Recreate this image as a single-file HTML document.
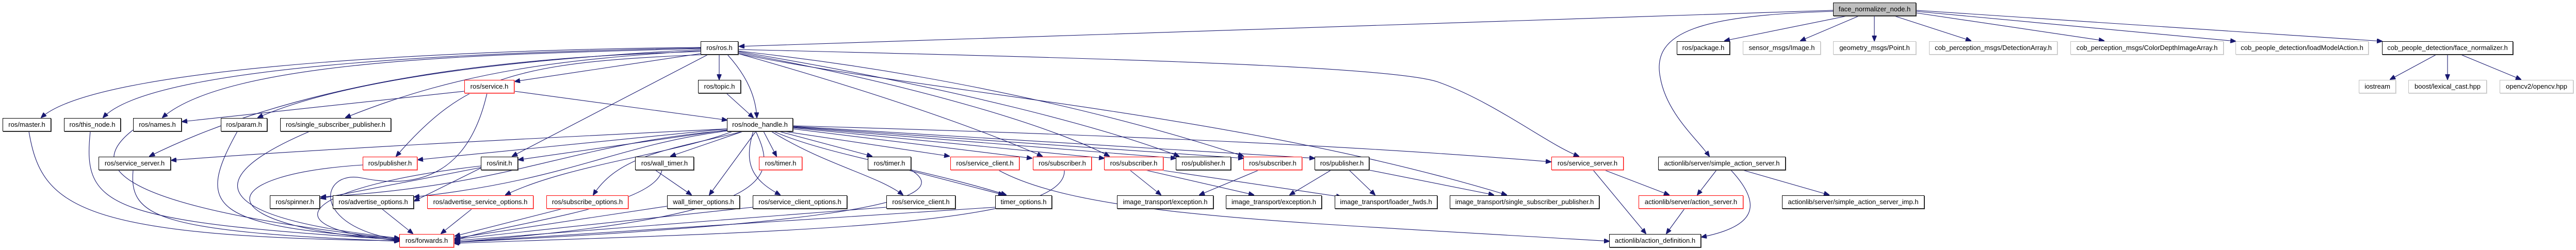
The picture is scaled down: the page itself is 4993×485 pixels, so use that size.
<!DOCTYPE html>
<html><head><meta charset="utf-8"><style>
html,body{margin:0;padding:0;background:#fff;}
#c{position:relative;width:4993px;height:485px;overflow:hidden;background:#fff;}
.n{position:absolute;height:26px;box-sizing:border-box;border:1px solid #000;background:#fff;font:13px "Liberation Sans",sans-serif;line-height:24px;text-align:center;white-space:nowrap;color:#000;box-shadow:1px 1px 0 #555;}
.r{border-color:#f00;box-shadow:1px 1px 0 #f99;}
.g{border-color:#bfbfbf;box-shadow:1px 1px 0 #ddd;}
.f{background:#bfbfbf;}
svg{position:absolute;left:0;top:0;}
path{fill:none;stroke:#191970;stroke-width:1.1;}
</style></head><body><div id="c">
<svg width="4993" height="485" viewBox="0 0 4993 485">
<defs><marker id="a" markerWidth="11" markerHeight="9" refX="10" refY="4.5" orient="auto" markerUnits="userSpaceOnUse"><path d="M0,0 L11,4.5 L0,9 z" style="fill:#191970;stroke:#191970"/></marker></defs>
<g marker-end="url(#a)">
<path d="M3553,20 L1433,90"/>
<path d="M3580,31 L3343,79"/>
<path d="M3603,31 L3490,79"/>
<path d="M3633,31 L3633,79"/>
<path d="M3672,31 L3820,79"/>
<path d="M3714,25 L4078,79"/>
<path d="M3714,22 L4333,80"/>
<path d="M3714,20 L4617,80"/>
<path d="M3553,22 C3300,30 3200,60 3218,150 C3230,220 3290,270 3313,303"/>
<path d="M4722,106 L4633,154"/>
<path d="M4744,106 L4744,154"/>
<path d="M4770,106 L4886,154"/>
<path d="M1358,92 C1000,95 200,120 80,228"/>
<path d="M1358,93 C1000,100 300,120 200,228"/>
<path d="M1358,94 C1000,105 450,110 315,228"/>
<path d="M1358,96 C1100,110 700,140 500,228"/>
<path d="M1358,98 C1100,115 900,135 670,228"/>
<path d="M1358,100 C1000,110 600,150 290,303"/>
<path d="M1365,106 C1000,120 900,150 768,303"/>
<path d="M1358,104 L998,158"/>
<path d="M1372,106 L993,303"/>
<path d="M1394,106 L1394,154"/>
<path d="M1410,106 C1450,150 1465,190 1467,228"/>
<path d="M1431,104 C1700,180 1900,250 2020,303"/>
<path d="M1431,102 C1800,170 2050,250 2150,303"/>
<path d="M1431,100 C1850,170 2150,250 2285,303"/>
<path d="M1431,99 C1900,150 2250,250 2410,303"/>
<path d="M1431,96 C2000,110 2700,125 2790,160 C2900,200 3000,280 3060,303"/>
<path d="M1431,104 C1800,180 2400,220 2920,378"/>
<path d="M900,177 L353,236"/>
<path d="M997,177 L1409,233"/>
<path d="M944,181 C910,330 820,370 700,345 C620,330 600,440 774,465"/>
<path d="M1408,181 L1460,228"/>
<path d="M56,255 C80,400 150,460 774,467"/>
<path d="M175,255 C160,400 200,430 774,465"/>
<path d="M258,252 C170,320 200,400 774,464"/>
<path d="M460,255 C380,400 400,440 774,463"/>
<path d="M600,255 C400,340 380,420 774,462"/>
<path d="M1409,250 C1000,270 600,290 332,311"/>
<path d="M1409,250 L810,310"/>
<path d="M1409,252 L1005,310"/>
<path d="M1409,253 C1100,280 1000,360 622,382"/>
<path d="M1409,254 C1200,280 1100,350 803,382"/>
<path d="M1420,255 C1300,300 1100,320 980,378"/>
<path d="M1440,255 C1300,290 1200,300 1150,378"/>
<path d="M1440,255 L1300,303"/>
<path d="M1465,255 L1375,378"/>
<path d="M1480,255 L1505,303"/>
<path d="M1510,255 L1690,303"/>
<path d="M1520,255 L1840,303"/>
<path d="M1537,250 L2000,307"/>
<path d="M1537,248 L2140,307"/>
<path d="M1537,247 L2279,307"/>
<path d="M1537,246 L2410,307"/>
<path d="M1537,245 L2548,307"/>
<path d="M1537,244 C2100,260 2600,280 3006,314"/>
<path d="M1460,255 C1440,320 1460,350 1512,378"/>
<path d="M1495,255 C1600,320 1700,340 1750,378"/>
<path d="M1500,255 C1600,300 1800,330 1950,378"/>
<path d="M1465,255 C1510,350 1500,420 880,470"/>
<path d="M258,330 C250,420 300,450 774,468"/>
<path d="M703,320 C400,340 400,440 774,466"/>
<path d="M932,325 L622,385"/>
<path d="M932,322 C600,360 500,440 774,467"/>
<path d="M932,326 L803,390"/>
<path d="M1270,330 L1340,378"/>
<path d="M1283,330 C1270,400 1000,430 880,466"/>
<path d="M1760,330 L1945,378"/>
<path d="M1766,330 C1880,400 1500,440 880,470"/>
<path d="M1935,330 C2100,420 2500,430 3119,468"/>
<path d="M2063,330 C2070,440 1500,450 880,472"/>
<path d="M2190,330 L2250,378"/>
<path d="M2220,330 L2430,378"/>
<path d="M2250,330 L2600,382"/>
<path d="M2440,330 L2325,378"/>
<path d="M2580,330 L2500,378"/>
<path d="M2615,330 L2665,378"/>
<path d="M2654,330 L2895,378"/>
<path d="M3110,330 L3235,378"/>
<path d="M3088,330 L3190,453"/>
<path d="M3327,330 L3290,378"/>
<path d="M3355,330 C3420,400 3400,440 3298,460"/>
<path d="M3378,330 L3545,378"/>
<path d="M3265,405 L3230,453"/>
<path d="M740,405 L800,453"/>
<path d="M915,405 L855,453"/>
<path d="M1090,405 L882,458"/>
<path d="M1293,400 L882,462"/>
<path d="M1459,402 L882,464"/>
<path d="M1718,402 L882,467"/>
<path d="M1929,402 L882,470"/>
</g></svg>

<div class="n f" style="left:3553px;top:5px;width:161px">face_normalizer_node.h</div>

<div class="n" style="left:1358px;top:80px;width:73px">ros/ros.h</div>
<div class="n" style="left:3250px;top:80px;width:103px">ros/package.h</div>
<div class="n g" style="left:3378px;top:80px;width:151px">sensor_msgs/Image.h</div>
<div class="n g" style="left:3553px;top:80px;width:161px">geometry_msgs/Point.h</div>
<div class="n g" style="left:3739px;top:80px;width:249px">cob_perception_msgs/DetectionArray.h</div>
<div class="n g" style="left:4013px;top:80px;width:297px">cob_perception_msgs/ColorDepthImageArray.h</div>
<div class="n g" style="left:4333px;top:80px;width:258px">cob_people_detection/loadModelAction.h</div>
<div class="n" style="left:4617px;top:80px;width:254px">cob_people_detection/face_normalizer.h</div>

<div class="n r" style="left:900px;top:155px;width:97px">ros/service.h</div>
<div class="n" style="left:1353px;top:155px;width:83px">ros/topic.h</div>
<div class="n g" style="left:4572px;top:155px;width:72px">iostream</div>
<div class="n g" style="left:4668px;top:155px;width:152px">boost/lexical_cast.hpp</div>
<div class="n g" style="left:4845px;top:155px;width:143px">opencv2/opencv.hpp</div>

<div class="n" style="left:5px;top:229px;width:94px">ros/master.h</div>
<div class="n" style="left:124px;top:229px;width:110px">ros/this_node.h</div>
<div class="n" style="left:258px;top:229px;width:94px">ros/names.h</div>
<div class="n" style="left:428px;top:229px;width:90px">ros/param.h</div>
<div class="n" style="left:543px;top:229px;width:215px">ros/single_subscriber_publisher.h</div>
<div class="n" style="left:1409px;top:229px;width:128px">ros/node_handle.h</div>

<div class="n" style="left:191px;top:304px;width:140px">ros/service_server.h</div>
<div class="n r" style="left:703px;top:304px;width:106px">ros/publisher.h</div>
<div class="n" style="left:932px;top:304px;width:72px">ros/init.h</div>
<div class="n" style="left:1231px;top:304px;width:114px">ros/wall_timer.h</div>
<div class="n r" style="left:1471px;top:304px;width:84px">ros/timer.h</div>
<div class="n" style="left:1682px;top:304px;width:84px">ros/timer.h</div>
<div class="n r" style="left:1842px;top:304px;width:134px">ros/service_client.h</div>
<div class="n r" style="left:2002px;top:304px;width:114px">ros/subscriber.h</div>
<div class="n r" style="left:2140px;top:304px;width:115px">ros/subscriber.h</div>
<div class="n" style="left:2279px;top:304px;width:107px">ros/publisher.h</div>
<div class="n r" style="left:2410px;top:304px;width:114px">ros/subscriber.h</div>
<div class="n" style="left:2548px;top:304px;width:106px">ros/publisher.h</div>
<div class="n r" style="left:3007px;top:304px;width:140px">ros/service_server.h</div>
<div class="n" style="left:3214px;top:304px;width:247px">actionlib/server/simple_action_server.h</div>

<div class="n" style="left:523px;top:379px;width:97px">ros/spinner.h</div>
<div class="n" style="left:645px;top:379px;width:157px">ros/advertise_options.h</div>
<div class="n r" style="left:828px;top:379px;width:206px">ros/advertise_service_options.h</div>
<div class="n r" style="left:1059px;top:379px;width:159px">ros/subscribe_options.h</div>
<div class="n" style="left:1293px;top:379px;width:141px">wall_timer_options.h</div>
<div class="n" style="left:1459px;top:379px;width:183px">ros/service_client_options.h</div>
<div class="n" style="left:1718px;top:379px;width:134px">ros/service_client.h</div>
<div class="n" style="left:1929px;top:379px;width:110px">timer_options.h</div>
<div class="n" style="left:2165px;top:379px;width:187px">image_transport/exception.h</div>
<div class="n" style="left:2376px;top:379px;width:186px">image_transport/exception.h</div>
<div class="n" style="left:2587px;top:379px;width:199px">image_transport/loader_fwds.h</div>
<div class="n" style="left:2810px;top:379px;width:290px">image_transport/single_subscriber_publisher.h</div>
<div class="n r" style="left:3176px;top:379px;width:203px">actionlib/server/action_server.h</div>
<div class="n" style="left:3454px;top:379px;width:276px">actionlib/server/simple_action_server_imp.h</div>

<div class="n r" style="left:774px;top:454px;width:106px">ros/forwards.h</div>
<div class="n" style="left:3119px;top:454px;width:178px">actionlib/action_definition.h</div>
</div></body></html>
